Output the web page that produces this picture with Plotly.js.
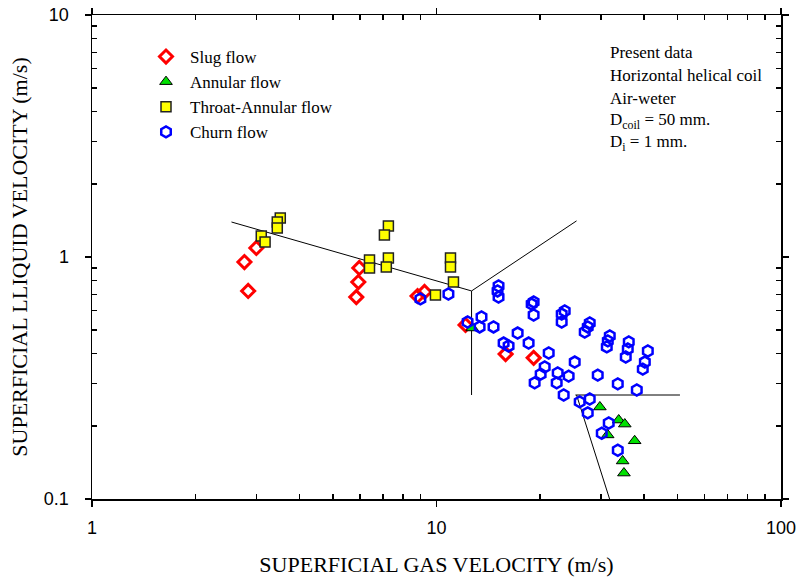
<!DOCTYPE html>
<html>
<head>
<meta charset="utf-8">
<script src="https://cdn.plot.ly/plotly-3.0.1.min.js"></script>
<style>html,body{margin:0;padding:0;background:#fff;}#chart{width:799px;height:577px;}</style>
</head>
<body>
<div id="chart"></div>
<script>
// Slug flow
const slugX = [3.00, 2.77, 2.84, 5.97, 5.93, 5.85, 8.81, 9.23, 12.14, 15.87, 19.14];
const slugY = [1.09, 0.953, 0.724, 0.901, 0.788, 0.683, 0.690, 0.717, 0.524, 0.397, 0.383];
// Annular flow
const annX = [12.7, 29.8, 33.8, 35.2, 31.4, 37.6, 34.7, 35.0];
const annY = [0.509, 0.240, 0.212, 0.204, 0.184, 0.174, 0.1436, 0.128];
// Throat-Annular flow
const throatX = [3.52, 3.45, 3.45, 3.10, 3.18, 7.25, 7.06, 6.39, 6.39, 7.25, 7.15, 10.98, 10.98, 11.2, 9.93];
const throatY = [1.449, 1.395, 1.318, 1.221, 1.153, 1.343, 1.233, 0.972, 0.901, 0.991, 0.909, 0.991, 0.909, 0.788, 0.697];
// Churn flow
const churnX = [8.98, 10.83, 15.14, 15.04, 15.14, 19.14, 18.89, 19.14, 23.56, 23.09, 23.09, 27.85, 27.48, 26.93,
  31.84, 31.42, 31.21, 36.15, 35.91, 35.43, 41.06, 40.25, 39.70, 12.31, 13.51, 13.34, 14.64, 17.20, 15.66, 16.19,
  18.51, 21.17, 25.19, 20.61, 20.06, 19.27, 22.48, 24.19, 22.33, 23.40, 29.38, 33.59, 38.14, 26.04, 27.85, 27.48,
  31.62, 30.18, 33.59];
const churnY = [0.671, 0.703, 0.759, 0.724, 0.683, 0.652, 0.639, 0.576, 0.598, 0.581, 0.539, 0.534, 0.514, 0.490,
  0.472, 0.450, 0.425, 0.446, 0.417, 0.386, 0.409, 0.368, 0.344, 0.539, 0.565, 0.514, 0.514, 0.485, 0.441, 0.429,
  0.441, 0.401, 0.368, 0.351, 0.328, 0.302, 0.332, 0.322, 0.302, 0.269, 0.325, 0.299, 0.282, 0.252, 0.259, 0.227,
  0.206, 0.187, 0.159];
// Flow regime boundary lines (segments separated by null)
const boundaryX = [2.54, 12.64, 25.5, null, 12.64, 12.64, null, 25.3, 50.9, null, 25.5, 31.8];
const boundaryY = [1.395, 0.724, 1.41, null, 0.724, 0.269, null, 0.269, 0.269, null, 0.269, 0.1];
// Tick labels
const xTickVals = [1, 10, 100];
const xTickText = ['1', '10', '100'];
const yTickVals = [0.1, 1, 10];
const yTickText = ['0.1', '1', '10'];
const xMinorVals = [2, 3, 4, 5, 6, 7, 8, 9, 20, 30, 40, 50, 60, 70, 80, 90];
const yMinorVals = [0.2, 0.3, 0.4, 0.5, 0.6, 0.7, 0.8, 0.9, 2, 3, 4, 5, 6, 7, 8, 9];
// Annotation lines
const noteLines = ['Present data', 'Horizontal helical coil', 'Air-weter', 'D<sub>coil</sub> = 50 mm.', 'D<sub>i</sub> = 1 mm.'];

const serif = 'Liberation Serif, Times New Roman, serif';
const sans = 'Liberation Sans, Arial, sans-serif';

const traces = [
  {x: boundaryX, y: boundaryY, mode: 'lines', line: {color: 'black', width: 1}, showlegend: false, hoverinfo: 'skip', connectgaps: false},
  {x: slugX, y: slugY, mode: 'markers', name: 'Slug flow',
   marker: {symbol: 'diamond-open', size: 10, color: '#ff0000', line: {width: 3, color: '#ff0000'}}},
  {x: annX, y: annY, mode: 'markers', name: 'Annular flow',
   marker: {symbol: 'triangle-up', size: 11, color: '#00e000', line: {width: 1, color: 'black'}}},
  {x: throatX, y: throatY, mode: 'markers', name: 'Throat-Annular flow',
   marker: {symbol: 'square', size: 10, color: '#ffff00', line: {width: 1.5, color: '#222'}}},
  {x: churnX, y: churnY, mode: 'markers', name: 'Churn flow',
   marker: {symbol: 'hexagon-open', size: 11, color: '#0000ff', line: {width: 2.5, color: '#0000ff'}}},
  // carrier for the minor-tick overlay axes
  {x: [], y: [], xaxis: 'x2', yaxis: 'y2', mode: 'markers', showlegend: false, hoverinfo: 'skip'}
];

const annotations = noteLines.map((t, i) => ({
  xref: 'paper', yref: 'paper', x: (608 - 92) / 689, y: (499 - (53 + i * 22.6)) / 484,
  xanchor: 'left', yanchor: 'middle', text: t, showarrow: false,
  font: {family: serif, size: 17, color: 'black'}
}));

const majorAxis = {
  type: 'log', showgrid: false, zeroline: false, showline: true, linecolor: 'black', linewidth: 1.5,
  mirror: 'ticks', ticks: 'outside', ticklen: 6, tickwidth: 1.5, tickcolor: 'black',
  tickfont: {family: sans, size: 18, color: 'black'}, tickmode: 'array'
};
const minorAxis = {
  type: 'log', showgrid: false, zeroline: false, showline: true, linecolor: 'black', linewidth: 1.5,
  mirror: 'ticks', ticks: 'inside', ticklen: 5, tickwidth: 1.5, tickcolor: 'black',
  showticklabels: false, tickmode: 'array'
};

const layout = {
  width: 799, height: 577,
  margin: {l: 92, r: 18, t: 15, b: 78},
  paper_bgcolor: 'white', plot_bgcolor: 'white',
  showlegend: true,
  legend: {x: (142 - 92) / 689, y: (499 - 39) / 484, xanchor: 'left', yanchor: 'top', itemwidth: 38,
           bgcolor: 'rgba(0,0,0,0)', borderwidth: 0, font: {family: serif, size: 17, color: 'black'}},
  xaxis: Object.assign({}, majorAxis, {
    range: [0, 2], tickvals: xTickVals, ticktext: xTickText, ticklabelstandoff: 6,
    title: {text: 'SUPERFICIAL GAS VELOCITY (m/s)', font: {family: serif, size: 22, color: 'black'}, standoff: 21}
  }),
  yaxis: Object.assign({}, majorAxis, {
    range: [-1, 1], tickvals: yTickVals, ticktext: yTickText, ticklabelstandoff: 12,
    title: {text: 'SUPERFICIAL LLIQUID VELOCITY (m/s)', font: {family: serif, size: 22, color: 'black'}, standoff: 10}
  }),
  xaxis2: Object.assign({}, minorAxis, {range: [0, 2], tickvals: xMinorVals, overlaying: 'x', anchor: 'y2', side: 'bottom'}),
  yaxis2: Object.assign({}, minorAxis, {range: [-1, 1], tickvals: yMinorVals, overlaying: 'y', anchor: 'x2', side: 'left'}),
  annotations: annotations
};

Plotly.newPlot('chart', traces, layout, {displayModeBar: false, staticPlot: true});
</script>
</body>
</html>
